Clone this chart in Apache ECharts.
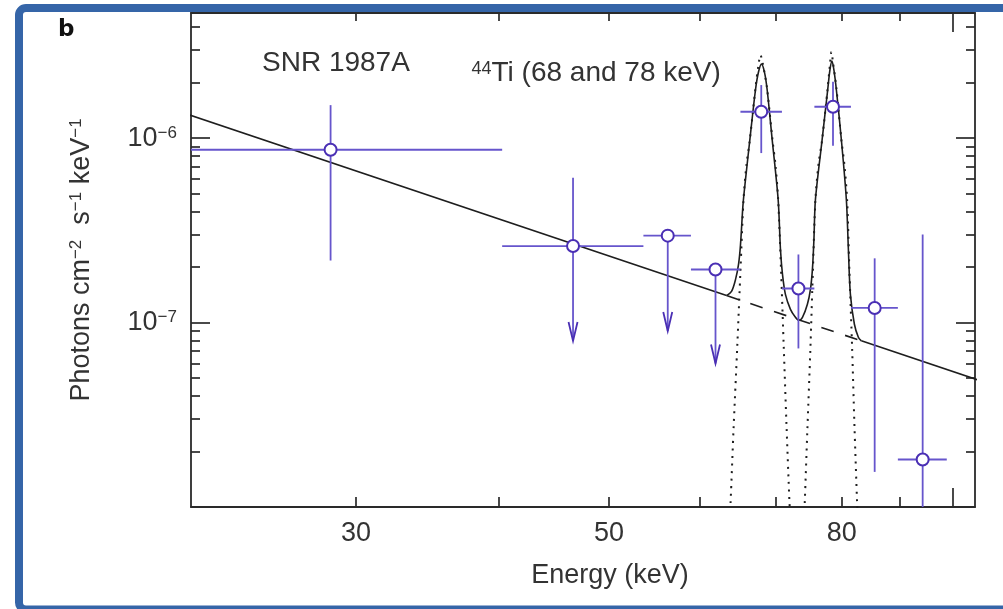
<!DOCTYPE html>
<html>
<head>
<meta charset="utf-8">
<title>SNR 1987A 44Ti spectrum</title>
<script src="https://cdn.jsdelivr.net/npm/echarts@6/dist/echarts.min.js"></script>
<style>
  html, body { margin: 0; padding: 0; background: #ffffff; }
  #chart { width: 1003px; height: 609px; }
</style>
</head>
<body>
<div id="chart"></div>
<script>
// ---- Axis ticks and labels ----
const energyMinorTicks = [30, 40, 50, 60, 70, 80, 90];
const energyMajorTicks = [100];
const energyLabels = [30, 50, 80];
const fluxMajorTicks = [1e-7, 1e-6];
const fluxMinorTicks = [2e-8, 3e-8, 4e-8, 5e-8, 6e-8, 7e-8, 8e-8, 9e-8,
                        2e-7, 3e-7, 4e-7, 5e-7, 6e-7, 7e-7, 8e-7, 9e-7,
                        2e-6, 3e-6, 4e-6];

// ---- Measured spectrum (keV bins, photons cm^-2 s^-1 keV^-1) ----
const binCentre = [28.5, 46.5, 56.3, 62.0, 68.0, 73.3, 78.6, 85.5, 94.2];
const binLow    = [20.0, 40.3, 53.6, 59.0, 65.2, 70.9, 75.7, 81.5, 89.6];
const binHigh   = [40.3, 53.6, 59.0, 65.2, 70.9, 75.7, 81.5, 89.6, 98.9];
const flux      = [8.65e-7, 2.6e-7, 2.96e-7, 1.94e-7, 1.39e-6, 1.53e-7, 1.48e-6, 1.2e-7, 1.81e-8];
const fluxHigh  = [1.51e-6, 6.1e-7, 2.96e-7, 1.94e-7, 1.94e-6, 2.34e-7, 2.02e-6, 2.23e-7, 3.0e-7];
const fluxLow   = [2.17e-7, 7.95e-8, 9.0e-8, 6.0e-8, 8.3e-7, 7.24e-8, 9.1e-7, 1.55e-8, 5.0e-9];
const upperLimit = [0, 1, 1, 1, 0, 0, 0, 0, 0];

// ---- Model: power-law continuum ----
const continuumLeft  = [[20.0, 1.541e-6], [63.40, 1.401e-7]];
const continuumUnder = [[63.40, 1.401e-7], [83.23, 7.96e-8]];
const continuumRight = [[83.23, 7.96e-8], [110.0, 4.462e-8]];

// ---- Model: continuum plus the two 44Ti lines ----
const modelLines = [
  [63.40, 1.401e-7], [64.04, 1.476e-7], [64.56, 1.714e-7], [64.95, 2.066e-7],
  [65.21, 2.650e-7], [65.54, 4.361e-7], [65.87, 5.954e-7], [66.45, 9.79e-7],
  [67.21, 1.824e-6], [67.62, 2.282e-6], [68.03, 2.521e-6], [68.44, 2.282e-6],
  [68.82, 1.824e-6], [69.52, 9.79e-7], [70.36, 4.640e-7], [70.69, 2.490e-7],
  [70.98, 1.824e-7], [71.40, 1.422e-7], [72.13, 1.180e-7], [72.86, 1.068e-7],
  [73.35, 1.029e-7], [73.90, 1.068e-7], [74.64, 1.256e-7], [75.10, 1.514e-7],
  [75.40, 1.942e-7], [75.63, 2.820e-7], [75.86, 4.640e-7], [76.89, 9.79e-7],
  [77.76, 1.824e-6], [78.11, 2.340e-6], [78.43, 2.617e-6], [78.75, 2.340e-6],
  [79.14, 1.824e-6], [79.94, 9.79e-7], [80.75, 4.640e-7], [81.08, 2.490e-7],
  [81.41, 1.422e-7], [82.07, 9.79e-8], [82.73, 8.326e-8], [83.23, 7.96e-8]
];

// ---- Model: the 68 keV and 78 keV lines alone ----
const line68 = [
  [63.84, 9.57e-9], [63.91, 1.045e-8], [64.30, 2.650e-8], [64.78, 7.354e-8],
  [65.21, 1.942e-7], [65.61, 4.640e-7], [66.00, 7.174e-7], [66.45, 9.79e-7],
  [67.21, 1.870e-6], [67.62, 2.490e-6], [67.90, 2.820e-6], [68.17, 2.585e-6],
  [68.79, 1.870e-6], [69.56, 9.79e-7], [69.98, 7.174e-7], [70.36, 4.640e-7],
  [70.77, 1.942e-7], [71.16, 7.354e-8], [71.55, 2.82e-8], [71.99, 1.045e-8],
  [72.06, 9.57e-9]
];
const line78 = [
  [74.20, 9.57e-9], [74.24, 1.045e-8], [74.64, 2.650e-8], [75.10, 7.354e-8],
  [75.48, 1.942e-7], [75.86, 4.640e-7], [76.32, 7.174e-7], [76.89, 9.79e-7],
  [77.76, 1.870e-6], [78.11, 2.490e-6], [78.35, 2.928e-6], [78.59, 2.585e-6],
  [79.14, 1.870e-6], [79.94, 9.79e-7], [80.43, 7.174e-7], [80.87, 4.640e-7],
  [81.24, 1.942e-7], [81.69, 7.354e-8], [82.07, 2.82e-8], [82.52, 1.045e-8],
  [82.57, 9.57e-9]
];

// ---- Styling ----
const FONT = "'Liberation Sans', Arial, Helvetica, sans-serif";
const AXIS_COLOR = '#2a2a2a';
const TEXT_COLOR = '#333333';
const DATA_COLOR = '#6655cc';
const MARKER_EDGE = '#4a2fb4';
const MODEL_COLOR = '#1e1e1e';

const E_MIN = 21.5, E_MAX = 104.7, F_MIN = 1e-8, F_MAX = 4.77e-6;

function energyAxis(position, ticks, tickLen, extra) {
  return Object.assign({
    type: 'log', logBase: 10, min: E_MIN, max: E_MAX, position: position,
    axisLine: { show: true, onZero: false, lineStyle: { color: AXIS_COLOR, width: 1.8 } },
    axisTick: { show: true, inside: true, length: tickLen, customValues: ticks,
                lineStyle: { color: AXIS_COLOR, width: 1.7 } },
    axisLabel: { show: false },
    splitLine: { show: false }, minorTick: { show: false }, minorSplitLine: { show: false }
  }, extra || {});
}
function fluxAxis(position, ticks, tickLen, extra) {
  return Object.assign({
    type: 'log', logBase: 10, min: F_MIN, max: F_MAX, position: position,
    axisLine: { show: true, onZero: false, lineStyle: { color: AXIS_COLOR, width: 1.8 } },
    axisTick: { show: true, inside: true, length: tickLen, customValues: ticks,
                lineStyle: { color: AXIS_COLOR, width: 1.7 } },
    axisLabel: { show: false },
    splitLine: { show: false }, minorTick: { show: false }, minorSplitLine: { show: false }
  }, extra || {});
}

const pointData = binCentre.map((e, i) =>
  [e, flux[i], binLow[i], binHigh[i], fluxLow[i], fluxHigh[i], upperLimit[i]]);

// error bars: horizontal bin width, vertical range, downward arrow for limits
function renderErrorBar(params, api) {
  const cs = params.coordSys;
  const xL = cs.x, xR = cs.x + cs.width, yT = cs.y, yB = cs.y + cs.height;
  const clampX = v => Math.max(xL, Math.min(xR, v));
  const clampY = v => Math.max(yT, Math.min(yB, v));
  const e = api.value(0), f = api.value(1);
  const pLo = api.coord([api.value(2), f]);
  const pHi = api.coord([api.value(3), f]);
  const pBot = api.coord([e, api.value(4)]);
  const pTop = api.coord([e, api.value(5)]);
  const style = { stroke: DATA_COLOR, lineWidth: 1.8, fill: null };
  const children = [
    { type: 'line', shape: { x1: clampX(pLo[0]), y1: pLo[1], x2: clampX(pHi[0]), y2: pHi[1] }, style: style },
    { type: 'line', shape: { x1: pTop[0], y1: clampY(pTop[1]), x2: pBot[0], y2: clampY(pBot[1]) }, style: style }
  ];
  if (api.value(6)) {
    children.push({
      type: 'polyline',
      shape: { points: [[pBot[0] - 4.5, pBot[1] - 19], [pBot[0], pBot[1]], [pBot[0] + 4.5, pBot[1] - 19]] },
      style: { stroke: MARKER_EDGE, lineWidth: 1.8, fill: null }
    });
  }
  return { type: 'group', children: children };
}

const chart = echarts.init(document.getElementById('chart'), null, { renderer: 'canvas' });

const option = {
  animation: false,
  backgroundColor: '#ffffff',
  textStyle: { fontFamily: FONT, color: TEXT_COLOR },
  grid: { left: 191, right: 28, top: 13, bottom: 102, containLabel: false, outerBoundsMode: 'none' },
  xAxis: [
    energyAxis('bottom', energyMinorTicks, 10, {
      axisLabel: {
        show: true, customValues: energyLabels, margin: 13, fontSize: 27, color: TEXT_COLOR,
        fontFamily: FONT, formatter: v => String(Math.round(v))
      },
      name: 'Energy (keV)', nameLocation: 'middle', nameGap: 55,
      nameTextStyle: { fontSize: 27, color: TEXT_COLOR, fontFamily: FONT, padding: [0, 0, 0, 54] }
    }),
    energyAxis('bottom', energyMajorTicks, 19, { axisLine: { show: false, onZero: false } }),
    energyAxis('top', energyMinorTicks, 8),
    energyAxis('top', energyMajorTicks, 19, { axisLine: { show: false, onZero: false } })
  ],
  yAxis: [
    fluxAxis('left', fluxMajorTicks, 19, {
      axisLabel: {
        show: true, customValues: fluxMajorTicks, margin: 14,
        formatter: v => '{b|10}{s|\u2212' + (-Math.round(Math.log10(v))) + '}',
        rich: {
          b: { fontSize: 27, fontFamily: FONT, color: TEXT_COLOR },
          s: { fontSize: 17, fontFamily: FONT, color: TEXT_COLOR, verticalAlign: 'top' }
        }
      },
      name: 'Photons cm{s|\u22122}  s{s|\u22121} keV{s|\u22121}',
      nameLocation: 'middle', nameRotate: 90, nameGap: 96,
      nameTextStyle: {
        fontSize: 27, color: TEXT_COLOR, fontFamily: FONT,
        rich: { s: { fontSize: 17, fontFamily: FONT, color: TEXT_COLOR, verticalAlign: 'top' } }
      }
    }),
    fluxAxis('left', fluxMinorTicks, 9, { axisLine: { show: false, onZero: false } }),
    fluxAxis('right', fluxMajorTicks, 19),
    fluxAxis('right', fluxMinorTicks, 9, { axisLine: { show: false, onZero: false } })
  ],
  graphic: [
    { type: 'rect', z: 100, silent: true,
      shape: { x: 19, y: 8, width: 1000, height: 601.5, r: 7 },
      style: { fill: null, stroke: '#3565a8', lineWidth: 8 } },
    { type: 'text', x: 58, y: 30, z: 100, silent: true,
      style: { text: 'b', font: "bold 23px 'DejaVu Sans'", fill: '#111111', align: 'left', verticalAlign: 'middle' } },
    { type: 'text', x: 262, y: 63.3, z: 100, silent: true,
      style: { text: 'SNR 1987A', font: '28px ' + FONT, fill: TEXT_COLOR, align: 'left', verticalAlign: 'middle' } },
    { type: 'text', x: 471.5, y: 73.6, z: 100, silent: true,
      style: {
        text: '{s|44}{b|Ti (68 and 78 keV)}', align: 'left', verticalAlign: 'middle',
        rich: {
          b: { fontSize: 28, fontFamily: FONT, fill: TEXT_COLOR },
          s: { fontSize: 18, fontFamily: FONT, fill: TEXT_COLOR, verticalAlign: 'top' }
        }
      } }
  ],
  series: [
    { type: 'line', name: 'continuum', data: continuumLeft, symbol: 'none', z: 2, clip: true,
      lineStyle: { color: MODEL_COLOR, width: 1.6 } },
    { type: 'line', name: 'continuum (under lines)', data: continuumUnder, symbol: 'none', z: 2, clip: true,
      lineStyle: { color: MODEL_COLOR, width: 1.6, type: [13, 12] } },
    { type: 'line', name: 'continuum (high energy)', data: continuumRight, symbol: 'none', z: 2, clip: true,
      lineStyle: { color: MODEL_COLOR, width: 1.6 } },
    { type: 'line', name: 'continuum + 44Ti lines', data: modelLines, symbol: 'none', z: 2, clip: true,
      smooth: 0.3, lineStyle: { color: MODEL_COLOR, width: 1.6 } },
    { type: 'line', name: '67.9 keV line', data: line68, symbol: 'none', z: 2, clip: true,
      smooth: 0.3, lineStyle: { color: MODEL_COLOR, width: 2, type: [2, 5.5] } },
    { type: 'line', name: '78.4 keV line', data: line78, symbol: 'none', z: 2, clip: true,
      smooth: 0.3, lineStyle: { color: MODEL_COLOR, width: 2, type: [2, 5.5] } },
    { type: 'custom', name: 'error bars', data: pointData, z: 3, renderItem: renderErrorBar,
      encode: { x: 0, y: 1 } },
    { type: 'scatter', name: 'flux', data: pointData, z: 4, symbol: 'circle', symbolSize: 12,
      encode: { x: 0, y: 1 },
      itemStyle: { color: '#ffffff', borderColor: MARKER_EDGE, borderWidth: 2, opacity: 1 } }
  ]
};

chart.setOption(option);
</script>
</body>
</html>
